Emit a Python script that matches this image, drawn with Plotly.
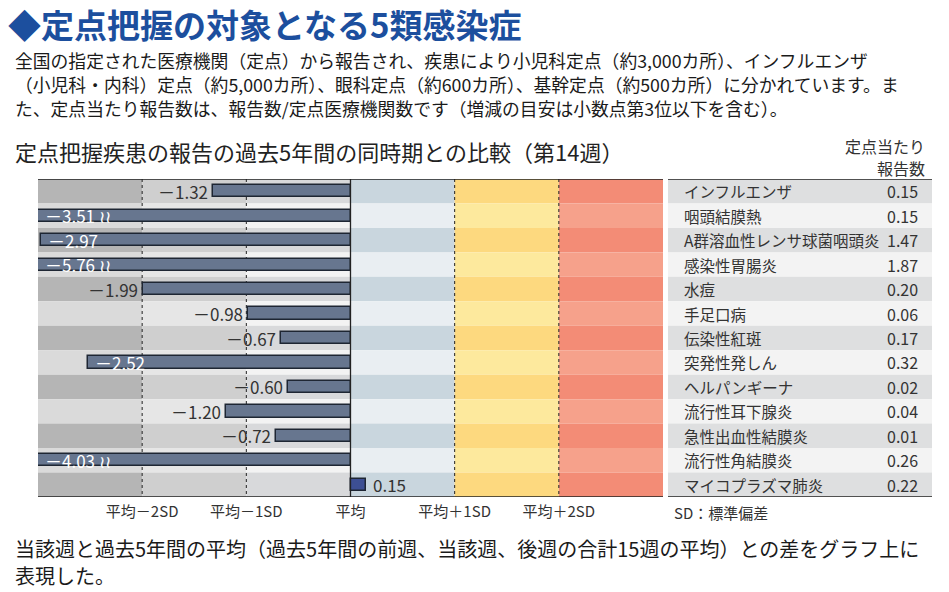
import numpy as np
import plotly.graph_objects as go

# ---------------- data ----------------
diseases = ["インフルエンザ", "咽頭結膜熱", "A群溶血性レンサ球菌咽頭炎", "感染性胃腸炎", "水痘",
            "手足口病", "伝染性紅斑", "突発性発しん", "ヘルパンギーナ", "流行性耳下腺炎",
            "急性出血性結膜炎", "流行性角結膜炎", "マイコプラズマ肺炎"]
diff_values = [-1.32, -3.51, -2.97, -5.76, -1.99, -0.98, -0.67, -2.52, -0.60, -1.20, -0.72, -4.03, 0.15]
per_site = ["0.15", "0.15", "1.47", "1.87", "0.20", "0.06", "0.17", "0.32", "0.02", "0.04", "0.01", "0.26", "0.22"]
tick_vals = [-2, -1, 0, 1, 2]
tick_text = ["平均－2SD", "平均－1SD", "平均", "平均＋1SD", "平均＋2SD"]

title = "◆定点把握の対象となる5類感染症"
intro_lines = [
    "全国の指定された医療機関（定点）から報告され、疾患により小児科定点（約3,000カ所）、インフルエンザ",
    "（小児科・内科）定点（約5,000カ所）、眼科定点（約600カ所）、基幹定点（約500カ所）に分かれています。ま",
    "た、定点当たり報告数は、報告数/定点医療機関数です（増減の目安は小数点第3位以下を含む）。",
]
subtitle = "定点把握疾患の報告の過去5年間の同時期との比較（第14週）"
header_lines = ["定点当たり", "報告数"]
footer_lines = [
    "当該週と過去5年間の平均（過去5年間の前週、当該週、後週の合計15週の平均）との差をグラフ上に",
    "表現した。",
]

# ---------------- layout constants ----------------
W, H = 949, 592
L, R, T, B = 38, 663, 179, 497
XMIN, XMAX = -3, 3
FONT = "Noto Sans CJK JP"
n = len(diseases)


def pxx(x):
    return (x - L) / (R - L)


def pxy(y):
    return 1 - (y - T) / (B - T)


zone_colors = {
    -3: ("#b5b5b5", "#dadada"),
    -2: ("#cfcfcf", "#e6e6e6"),
    -1: ("#d8d9db", "#f3f3f3"),
    0: ("#c9d6de", "#e9eef2"),
    1: ("#fdd97f", "#fde99d"),
    2: ("#f38c76", "#f6a18b"),
}

shapes = []
for i in range(n):
    for z, (dark, light) in zone_colors.items():
        shapes.append(dict(type="rect", xref="x", yref="y", x0=z, x1=z + 1,
                           y0=i - 0.5, y1=i + 0.5, fillcolor=dark if i % 2 == 0 else light,
                           line=dict(width=0), layer="below"))
    # table rows
    shapes.append(dict(type="rect", xref="paper", yref="y", x0=pxx(668), x1=pxx(932),
                       y0=i - 0.5, y1=i + 0.5, fillcolor="#dedfe0" if i % 2 == 0 else "#f3f3f3",
                       line=dict(width=0), layer="below"))

for v in [-2, -1, 1, 2]:
    shapes.append(dict(type="line", xref="x", yref="y", x0=v, x1=v, y0=-0.5, y1=n - 0.5,
                       line=dict(color="#222222", width=1, dash="dot"), layer="below"))
shapes.append(dict(type="line", xref="x", yref="y", x0=0, x1=0, y0=-0.5, y1=n - 0.5,
                   line=dict(color="#222222", width=1.3)))
for yy in [-0.5, n - 0.5]:
    shapes.append(dict(type="line", xref="x", yref="y", x0=XMIN, x1=XMAX, y0=yy, y1=yy,
                       line=dict(color="#222222", width=1.6)))
    shapes.append(dict(type="line", xref="paper", yref="y", x0=pxx(668), x1=pxx(932), y0=yy, y1=yy,
                       line=dict(color="#222222", width=1.6)))

# ---------------- bars ----------------
vals = np.array(diff_values)
shown = np.maximum(vals, XMIN)
colors = ["#67768f" if v < 0 else "#3d4f93" for v in vals]

fig = go.Figure()
fig.add_trace(go.Bar(
    x=shown, y=list(range(n)), orientation="h", width=0.5,
    marker=dict(color=colors, line=dict(color="#1e2633", width=1.5)),
    hoverinfo="skip", showlegend=False,
))


def fmt(v):
    return ("－" if v < 0 else "") + f"{abs(v):.2f}"


ann = []
for i, (v, s) in enumerate(zip(vals, shown)):
    if v < XMIN:
        ann.append(dict(x=s, y=i, xref="x", yref="y", text=fmt(v) + " ≀≀", xanchor="left",
                        xshift=5, showarrow=False, font=dict(family=FONT, size=17, color="white")))
    elif v < -2.3:
        ann.append(dict(x=s, y=i, xref="x", yref="y", text=fmt(v), xanchor="left",
                        xshift=5, showarrow=False, font=dict(family=FONT, size=17, color="white")))
    elif v < 0:
        ann.append(dict(x=s, y=i, xref="x", yref="y", text=fmt(v), xanchor="right",
                        xshift=-3, showarrow=False, font=dict(family=FONT, size=17, color="#333333")))
    else:
        ann.append(dict(x=s, y=i, xref="x", yref="y", text=fmt(v), xanchor="left",
                        xshift=5, showarrow=False, font=dict(family=FONT, size=17, color="#333333")))

# table text
for i, (d, p) in enumerate(zip(diseases, per_site)):
    ann.append(dict(x=pxx(682), y=i, xref="paper", yref="y", text=d, xanchor="left",
                    showarrow=False, font=dict(family=FONT, size=15.5, color="#333333")))
    ann.append(dict(x=pxx(920), y=i, xref="paper", yref="y", text=p, xanchor="right",
                    showarrow=False, font=dict(family=FONT, size=16, color="#333333")))

for k, line in enumerate(header_lines):
    ann.append(dict(x=pxx(927), y=pxy(146 + 22 * k), xref="paper", yref="paper", text=line,
                    xanchor="right", yanchor="middle", showarrow=False,
                    font=dict(family=FONT, size=16, color="#333333")))
ann.append(dict(x=pxx(672), y=pxy(512), xref="paper", yref="paper", text="SD：標準偏差", xanchor="left",
                yanchor="middle", showarrow=False, font=dict(family=FONT, size=15, color="#333333")))

# heading texts
ann.append(dict(x=pxx(6), y=pxy(24.5), xref="paper", yref="paper", text="<b>" + title + "</b>",
                xanchor="left", yanchor="middle", showarrow=False,
                font=dict(family=FONT, size=33, color="#1c4f9e")))
for k, line in enumerate(intro_lines):
    ann.append(dict(x=pxx(13), y=pxy(60 + 24 * k), xref="paper", yref="paper", text=line,
                    xanchor="left", yanchor="middle", showarrow=False,
                    font=dict(family=FONT, size=17.8, color="#1a1a1a")))
ann.append(dict(x=pxx(13), y=pxy(151), xref="paper", yref="paper", text=subtitle,
                xanchor="left", yanchor="middle", showarrow=False,
                font=dict(family=FONT, size=22, color="#222222")))
for k, line in enumerate(footer_lines):
    ann.append(dict(x=pxx(13), y=pxy(548 + 27 * k), xref="paper", yref="paper", text=line,
                    xanchor="left", yanchor="middle", showarrow=False,
                    font=dict(family=FONT, size=20, color="#1a1a1a")))

fig.update_layout(
    width=W, height=H,
    margin=dict(l=L, r=W - R, t=T, b=H - B, pad=0),
    paper_bgcolor="white", plot_bgcolor="white",
    shapes=shapes, annotations=ann,
    xaxis=dict(range=[XMIN, XMAX], tickvals=tick_vals, ticktext=tick_text, showgrid=False,
               zeroline=False, showline=False, ticks="", ticklabelstandoff=4,
               tickfont=dict(family=FONT, size=15, color="#333333"), fixedrange=True),
    yaxis=dict(range=[n - 0.5, -0.5], showticklabels=False, showgrid=False, zeroline=False,
               showline=False, ticks="", fixedrange=True),
    bargap=0,
)

fig.write_html("out.html")
